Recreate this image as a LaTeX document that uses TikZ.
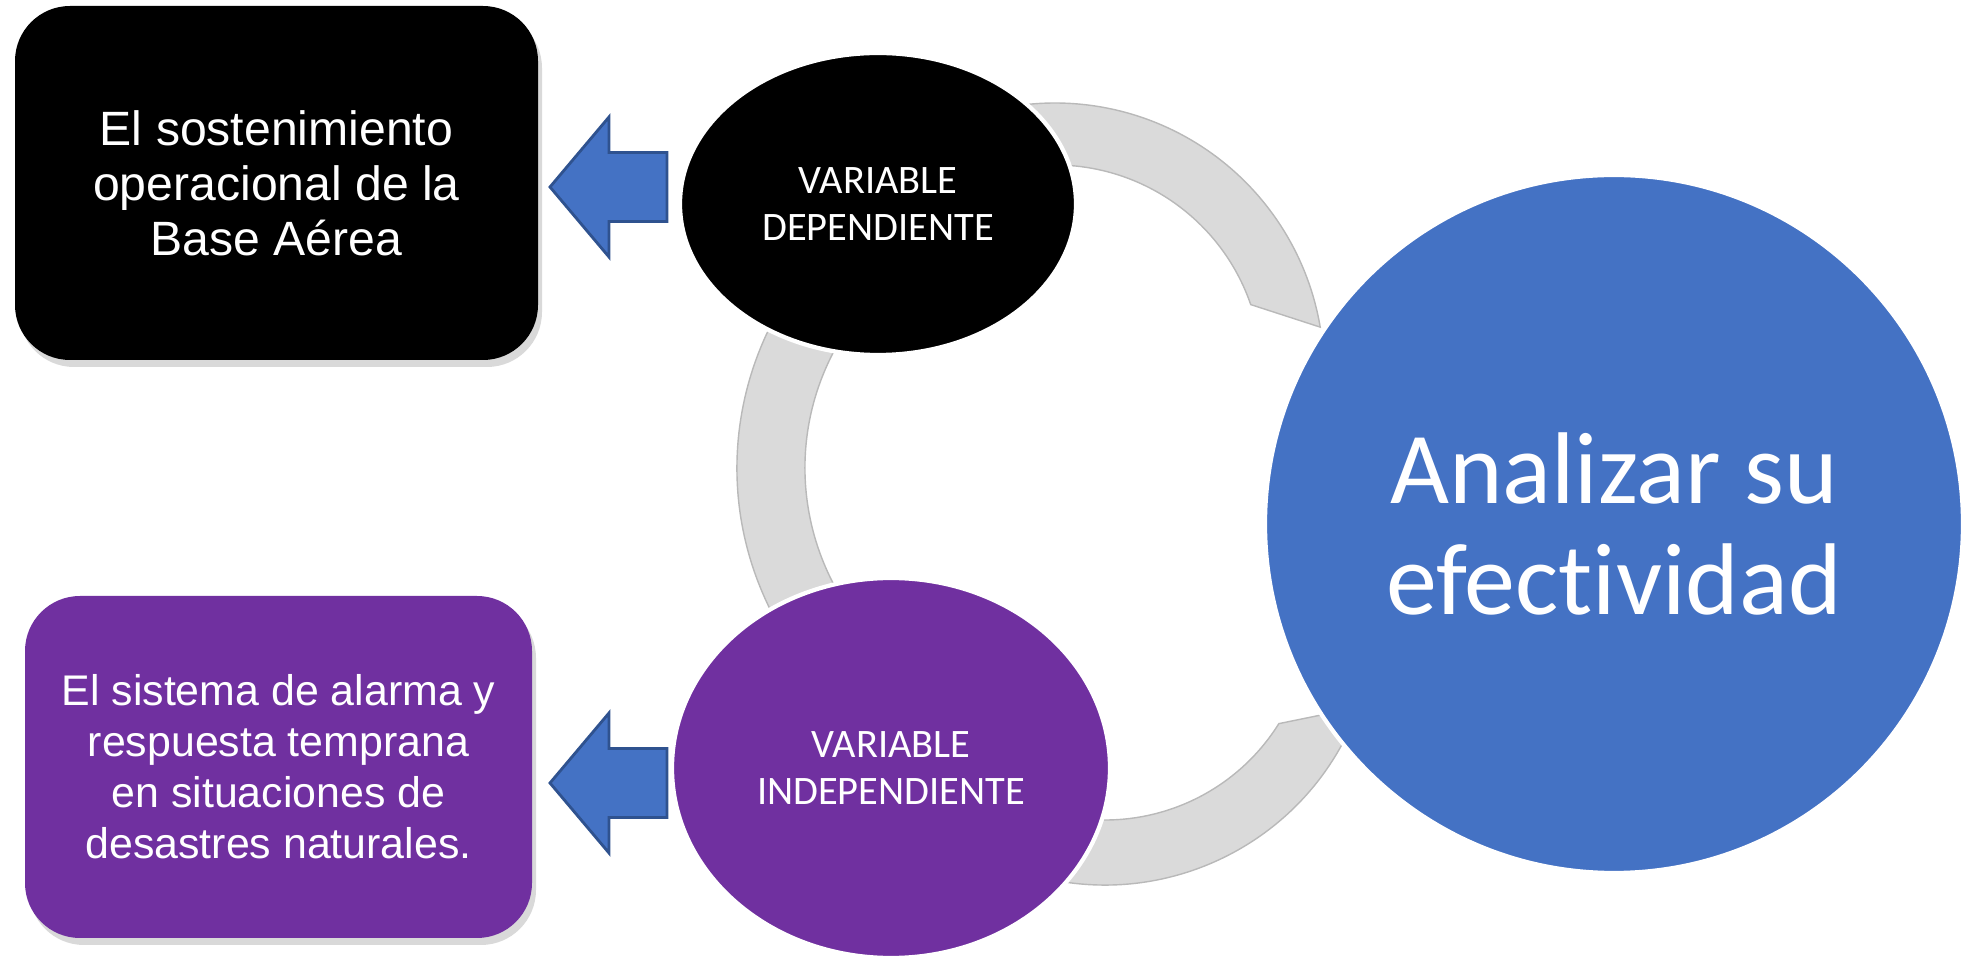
\documentclass[tikz,border=0pt]{standalone}
\usepackage{fontspec}
\setmainfont{Liberation Sans}
\newfontfamily\calibfont[Ligatures=NoCommon]{Carlito}
\usetikzlibrary{shapes.geometric,shadows}
\definecolor{boxpurple}{HTML}{7030A0}
\definecolor{diagblue}{HTML}{4472C4}
\definecolor{arrowline}{HTML}{2F528F}
\definecolor{ringgray}{HTML}{DADADA}

\begin{document}
\begin{tikzpicture}[
  textbox/.style={rectangle, rounded corners=0.55cm, text=white, align=center,
    drop shadow={shadow xshift=0.04cm, shadow yshift=-0.07cm, opacity=0.3}},
  varoval/.style={ellipse, draw=white, line width=1.2pt, text=white, align=center,
    font=\calibfont\fontsize{11.5}{13.3}\selectfont},
  ring/.style={fill=ringgray, draw=gray!55, line width=0.4pt},
  blockarrow/.style={fill=diagblue, draw=arrowline, line width=0.8pt}
]
\useasboundingbox (0,0) rectangle (19.62,9.58);

% gray cycle behind the circles
\coordinate (ctop) at (10.55,5.86);
\coordinate (cleft) at (10.55,4.90);
\coordinate (cbot) at (11.05,3.43);
\draw[ring] ([shift={(120:2.69)}]ctop) arc[start angle=120, end angle=9.6, radius=2.69]
  -- ([shift={(19:2.07)}]ctop) arc[start angle=19, end angle=120, radius=2.07] -- cycle;
\draw[ring] ([shift={(115:3.18)}]cleft) arc[start angle=115, end angle=245, radius=3.18]
  -- ([shift={(245:2.50)}]cleft) arc[start angle=245, end angle=115, radius=2.50] -- cycle;
\draw[ring] ([shift={(-20:2.70)}]cbot) arc[start angle=-20, end angle=-110, radius=2.70]
  -- ([shift={(-110:2.05)}]cbot) arc[start angle=-110, end angle=-32, radius=2.05] -- cycle;

% boxes on the left
\node[textbox, fill=black, minimum width=5.23cm, minimum height=3.54cm,
  font=\fontsize{13.7}{15.6}\selectfont] (sost) at (2.765,7.75)
  {El sostenimiento\\operacional de la\\Base Aérea};
\node[textbox, fill=boxpurple, minimum width=5.07cm, minimum height=3.42cm,
  font=\fontsize{12.2}{14.5}\selectfont] (alarma) at (2.785,1.91)
  {El sistema de alarma y\\respuesta temprana\\en situaciones de\\desastres naturales.};

% variables
\node[varoval, fill=black, minimum width=3.96cm, minimum height=3.02cm] (dep) at (8.78,7.54)
  {VARIABLE\\DEPENDIENTE};
\node[varoval, fill=boxpurple, minimum width=4.38cm, minimum height=3.80cm] (indep) at (8.91,1.90)
  {VARIABLE\\INDEPENDIENTE};

% objective
\node[circle, fill=diagblue, draw=white, line width=1.2pt, minimum size=6.98cm,
  text=white, align=center, font=\calibfont\fontsize{29}{31.7}\selectfont] (efect) at (16.14,4.34)
  {Analizar su\\efectividad};

% block arrows
\foreach \ya in {7.71,1.75}
  \draw[blockarrow] (5.50,\ya) -- ++(0.59,0.70) -- ++(0,-0.355) -- ++(0.58,0)
    -- ++(0,-0.69) -- ++(-0.58,0) -- ++(0,-0.355) -- cycle;
\end{tikzpicture}
\end{document}
